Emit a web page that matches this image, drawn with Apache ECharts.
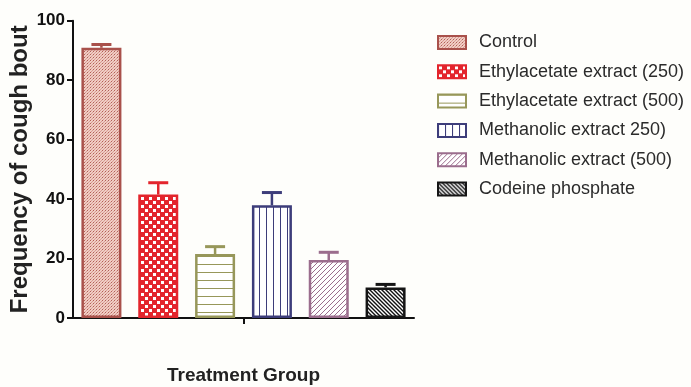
<!DOCTYPE html>
<html><head><meta charset="utf-8">
<script src="https://cdn.jsdelivr.net/npm/echarts@6/dist/echarts.min.js"></script>
<style>html,body{margin:0;padding:0;background:#fefefb}#c{width:691px;height:387px}</style>
</head><body><div id="c"></div>
<script>
const groups = ['Control','Ethylacetate extract (250)','Ethylacetate extract (500)','Methanolic extract 250)','Methanolic extract (500)','Codeine phosphate'];
const means = [90.9, 41.5, 21.5, 37.9, 19.5, 10.3];
const sems = [1.1, 4.0, 2.5, 4.3, 2.6, 1.0];
const yMin = 0, yMax = 100, yStep = 20;
const yTitle = 'Frequency of cough bout';
const xTitle = 'Treatment Group';

const FONT = "'Liberation Sans',Arial,sans-serif";
const borders = ['#a9514b','#e3252c','#97975a','#3d3d7a','#9b6d8d','#151515'];

function pat(w,h,draw){const c=document.createElement('canvas');c.width=w;c.height=h;const g=c.getContext('2d');draw(g,w,h);return {image:c,repeat:'repeat'};}
const patterns = [
  pat(3,3,(g)=>{g.fillStyle='#f0cdc4';g.fillRect(0,0,3,3);g.fillStyle='#b35f57';g.fillRect(0,0,1,1);g.fillStyle='#d89b92';g.fillRect(1,2,1,1);g.fillRect(2,1,1,1);}),
  pat(8,8,(g)=>{g.fillStyle='#e3252c';g.fillRect(0,0,8,8);g.fillStyle='#ffffff';g.fillRect(1,1,3,3);g.fillRect(5,5,3,3);}),
  pat(8,8,(g)=>{g.fillStyle='#ffffff';g.fillRect(0,0,8,8);g.fillStyle='#97975a';g.fillRect(0,0,8,1);}),
  pat(7,7,(g)=>{g.fillStyle='#ffffff';g.fillRect(0,0,7,7);g.fillStyle='#3d3d7a';g.fillRect(0,0,1,7);}),
  pat(5,5,(g,s)=>{g.fillStyle='#ffffff';g.fillRect(0,0,s,s);g.strokeStyle='#9b6d8d';g.lineWidth=1;g.beginPath();
    g.moveTo(-1,1);g.lineTo(1,-1);g.moveTo(0,s);g.lineTo(s,0);g.moveTo(s-1,s+1);g.lineTo(s+1,s-1);g.stroke();}),
  pat(4,4,(g,s)=>{g.fillStyle='#ffffff';g.fillRect(0,0,s,s);g.strokeStyle='#111111';g.lineWidth=1.4;g.beginPath();
    g.moveTo(-1,s-1);g.lineTo(1,s+1);g.moveTo(0,0);g.lineTo(s,s);g.moveTo(s-1,-1);g.lineTo(s+1,1);g.stroke();})
];

const series = groups.map((name,i)=>({
  type:'bar', name:name, stack:'all', barWidth:40, xAxisIndex:0,
  data: means.map((m,j)=> j===i ? m : '-'),
  itemStyle:{color:patterns[i], borderColor:borders[i], borderWidth:2.5}
}));
series.push({
  type:'custom', xAxisIndex:0, z:1,
  data: means.map((m,i)=>[i,m,sems[i]]),
  renderItem:(params,api)=>{
    const i=api.value(0), m=api.value(1), e=api.value(2);
    const top=api.coord([i,m+e]), base=api.coord([i,m]);
    const col=borders[i];
    return {type:'group',children:[
      {type:'line',shape:{x1:top[0],y1:base[1],x2:top[0],y2:top[1]},style:{stroke:col,lineWidth:2.5}},
      {type:'line',shape:{x1:top[0]-10,y1:top[1],x2:top[0]+10,y2:top[1]},style:{stroke:col,lineWidth:3}}
    ]};
  }
});

const chart = echarts.init(document.getElementById('c'));
chart.setOption({
  animation:false,
  backgroundColor:'#fefefb',
  grid:{left:73,right:277,top:20.7,bottom:69,containLabel:false,outerBoundsMode:'none'},
  legend:{
    data:groups, orient:'vertical', left:437, top:31.5, padding:0, itemWidth:28, itemHeight:13, itemGap:7.3, icon:'rect',
    textStyle:{fontFamily:FONT,fontSize:18,color:'#2b2b2b',lineHeight:22,padding:[0,0,0,8]}
  },
  xAxis:[
    {type:'category',data:groups,axisLine:{show:false},axisTick:{show:false},axisLabel:{show:false},splitLine:{show:false}},
    {type:'category',data:[''],position:'bottom',axisLine:{show:true,lineStyle:{color:'#111',width:2}},
     axisTick:{show:true,alignWithLabel:true,length:6,lineStyle:{color:'#111',width:2}},axisLabel:{show:false},
     name:xTitle,nameLocation:'middle',nameGap:48,
     nameTextStyle:{fontFamily:FONT,fontWeight:'bold',fontSize:19,color:'#222'}}
  ],
  yAxis:{
    type:'value',min:yMin,max:yMax,interval:yStep,
    axisLine:{show:true,lineStyle:{color:'#111',width:2}},
    axisTick:{show:true,length:6,lineStyle:{color:'#111',width:2}},
    axisLabel:{fontFamily:FONT,fontWeight:'bold',fontSize:17,color:'#111',margin:8},
    splitLine:{show:false},
    name:yTitle,nameLocation:'middle',nameGap:32,
    nameTextStyle:{fontFamily:FONT,fontWeight:'bold',fontSize:24,color:'#222'}
  },
  series:series
});
</script></body></html>
